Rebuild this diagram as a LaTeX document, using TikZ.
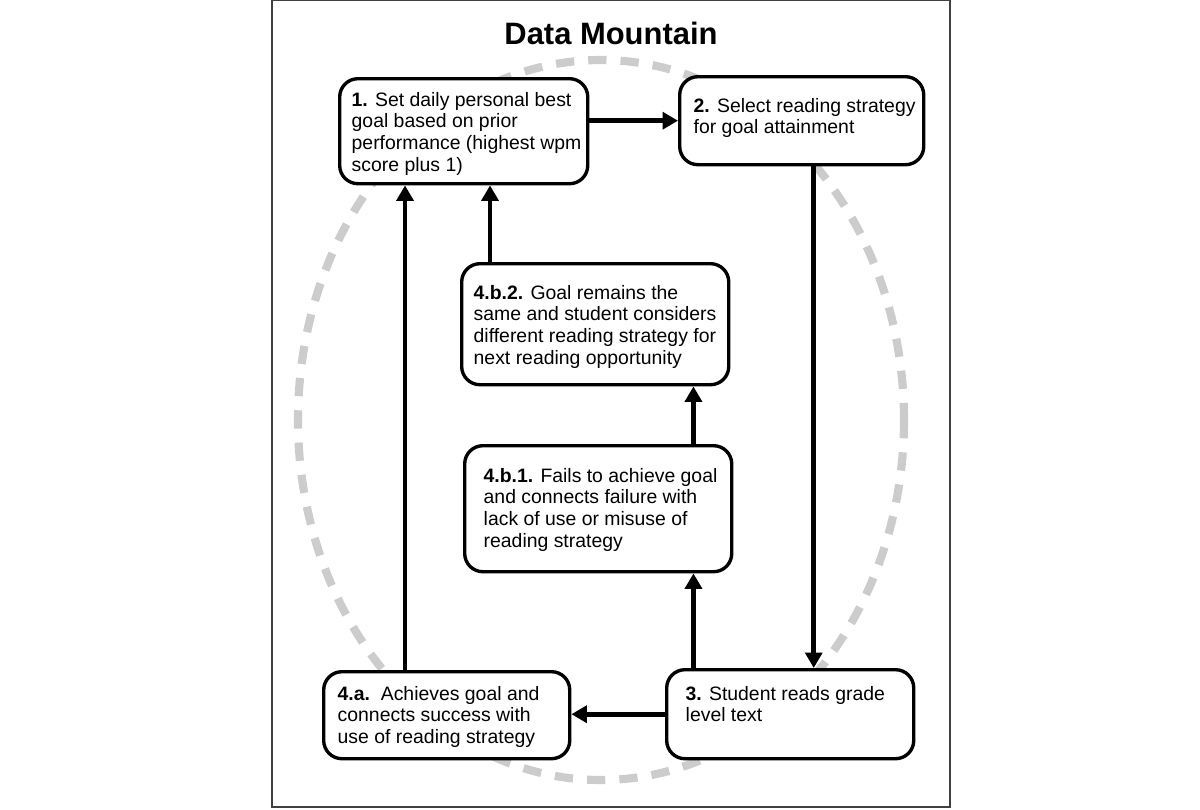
\documentclass[tikz,border=0pt]{standalone}
\usepackage{fontspec}
\setmainfont{Liberation Sans}
\usetikzlibrary{arrows.meta,calc}

\newcommand{\stagetext}[3]{\parbox[c][#2][t]{#1}{\begin{tabular}{@{}l@{}}#3\end{tabular}}}

\begin{document}
\begin{tikzpicture}[x=0.025cm,y=-0.025cm,->,>={Triangle[length=11pt,width=12pt]},
  line width=3.3pt,
  stage node/.style={draw,fill=white,line width=2.4pt,rounded corners=13pt,anchor=north west,
    font=\fontsize{13.8}{15.6}\selectfont}]

\useasboundingbox (0,0) rectangle (1200,809);
\draw[-,line width=0.9pt,black!75] (272,0.5) rectangle (950,807);

% dashed mountain outline
\draw[-,line width=5.8pt,black!20,dash pattern=on 13pt off 10pt]
  (601,420) ellipse [x radius=303,y radius=360];

\node[font=\fontsize{22}{24}\selectfont\bfseries] (title) at (611,33) {Data Mountain};

\node[stage node,inner xsep=0.3cm,inner ysep=0.3cm] (S1) at (338,77)
  {\stagetext{5.6cm}{2.025cm}{\textbf{1.} Set daily personal best\\goal based on prior\\performance (highest wpm\\score plus 1)}};
\node[stage node,inner xsep=0.35cm,inner ysep=0.5cm] (S2) at (678,75)
  {\stagetext{5.4cm}{1.2cm}{\textbf{2.} Select reading strategy\\for goal attainment}};
\node[stage node,inner xsep=0.3cm,inner ysep=0.5cm] (S4b2) at (460,262)
  {\stagetext{6.075cm}{2.025cm}{\textbf{4.b.2.} Goal remains the\\same and student considers\\different reading strategy for\\next reading opportunity}};
\node[stage node,inner xsep=0.475cm,inner ysep=0.525cm] (S4b1) at (463,444)
  {\stagetext{5.725cm}{2.1cm}{\textbf{4.b.1.} Fails to achieve goal\\and connects failure with\\lack of use or misuse of\\reading strategy}};
\node[stage node,inner xsep=0.475cm,inner ysep=0.375cm] (S3) at (665,668)
  {\stagetext{5.225cm}{1.475cm}{\textbf{3.} Student reads grade\\level text}};
\node[stage node,inner xsep=0.35cm,inner ysep=0.325cm] (S4a) at (322,670)
  {\stagetext{5.45cm}{1.525cm}{\textbf{4.a.}\ \ Achieves goal and\\connects success with\\use of reading strategy}};

\path
(S1.east |- S2.west) edge (S2.west)
([xshift=0.3cm]S2.south) edge ([xshift=0.3cm]S2.south |- S3.north)
(S3.west) edge (S3.west -| S4a.east)
([xshift=-1cm]S4b1.south east |- S3.north) edge ([xshift=-1cm]S4b1.south east)
([xshift=-1cm]S4b1.north east) edge ([xshift=-1cm]S4b1.north east |- S4b2.south)
([xshift=0.75cm]S4b2.north west) edge ([xshift=0.75cm]S4b2.north west |- S1.south)
([xshift=1.675cm]S1.south west |- S4a.north) edge ([xshift=1.675cm]S1.south west);
\end{tikzpicture}
\end{document}
